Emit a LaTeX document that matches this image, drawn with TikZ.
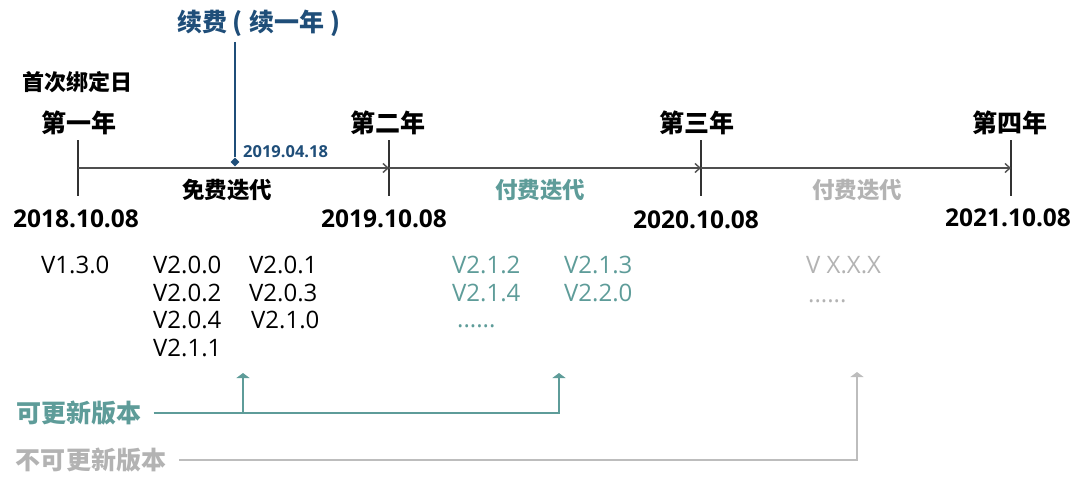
\documentclass[tikz,border=0pt]{standalone}
\usepackage{fontspec}
\setmainfont{Open Sans}
\newfontfamily\cjk{Noto Sans CJK SC}
\usetikzlibrary{arrows.meta,shapes.geometric}
\definecolor{tealc}{HTML}{5E9C99}
\definecolor{grayc}{HTML}{B3B3B3}
\definecolor{graylinec}{HTML}{BDBDBD}
\definecolor{bluec}{HTML}{1F4E79}
\definecolor{linec}{HTML}{4F4F4F}
\definecolor{tickc}{HTML}{333333}
\begin{document}
\begin{tikzpicture}[x=1pt,y=-1pt,
  every node/.style={inner sep=0pt, anchor=center},
  yearlbl/.style={font=\cjk\bfseries\fontsize{25}{29}\selectfont, text=black},
  datelbl/.style={font=\bfseries\fontsize{24.5}{28}\selectfont, text=black},
  spanlbl/.style={font=\cjk\bfseries\fontsize{22.5}{26}\selectfont},
  verlbl/.style={font=\fontsize{24}{28}\selectfont, anchor=west},
  dotslbl/.style={font=\fontsize{24}{28}\selectfont, anchor=west},
  legendlbl/.style={font=\cjk\bfseries\fontsize{25}{29}\selectfont},
  timeline/.style={draw=linec, line width=1.4pt, -{Straight Barb[length=5pt,width=9pt,line width=1.4pt]}},
  tickline/.style={draw=tickc, line width=1.1pt},
  tealline/.style={draw=tealc, line width=1.4pt},
  grayline/.style={draw=graylinec, line width=1.4pt},
  tealtip/.style={-{Triangle[length=5pt,width=13pt]}},
]
\useasboundingbox (0,0) rectangle (1083,476);

% ticks
\foreach \i/\x in {1/78,2/389,3/701,4/1011}{
  \coordinate (top\i) at (\x,140);
  \coordinate (bot\i) at (\x,196);
  \coordinate (mid\i) at (\x,168);
  \draw[tickline] (top\i) -- (bot\i);
}
\draw[timeline] (mid1) -- (mid2);
\draw[timeline] (mid2) -- (mid3);
\draw[timeline] (mid3) -- (mid4);

% year labels
\node[font=\cjk\bfseries\fontsize{22}{26}\selectfont] (first) at (77,82) {首次绑定日};
\node[yearlbl] (y1) at (79,123) {第一年};
\node[yearlbl] (y2) at (388,123) {第二年};
\node[yearlbl] (y3) at (697,123) {第三年};
\node[yearlbl] (y4) at (1010,123) {第四年};

% dates
\node[datelbl] (d1) at (76,219) {2018.10.08};
\node[datelbl] (d2) at (384,219) {2019.10.08};
\node[datelbl] (d3) at (696,220) {2020.10.08};
\node[datelbl] (d4) at (1008,218) {2021.10.08};

% span labels
\node[spanlbl, text=black] (s1) at (227,190) {免费迭代};
\node[spanlbl, text=tealc] (s2) at (540,190) {付费迭代};
\node[spanlbl, text=grayc] (s3) at (857,190) {付费迭代};

% renewal marker
\node[diamond, fill=bluec, minimum size=9pt, inner sep=0pt] (dia) at (235,162) {};
\coordinate (btop) at (235,42);
\draw[draw=bluec, line width=2pt] (btop) -- (dia.north);
\node[font=\cjk\bfseries\fontsize{25}{29}\selectfont, text=bluec, anchor=west] (renew) at (177,23) {续费\hspace{5pt}(\hspace{7pt}续一年\hspace{6pt})};
\node[font=\bfseries\fontsize{16.5}{19}\selectfont, text=bluec, anchor=west] (rdate) at (243,152) {2019.04.18};

% versions black
\node[verlbl] (v130) at (41,265) {V1.3.0};
\node[verlbl] (v200) at (153,265) {V2.0.0};
\node[verlbl] (v201) at (249,265) {V2.0.1};
\node[verlbl] (v202) at (153,293) {V2.0.2};
\node[verlbl] (v203) at (249,293) {V2.0.3};
\node[verlbl] (v204) at (153,320) {V2.0.4};
\node[verlbl] (v210) at (251,320) {V2.1.0};
\node[verlbl] (v211) at (153,348) {V2.1.1};

% versions teal
\node[verlbl, text=tealc] (v212) at (452,265) {V2.1.2};
\node[verlbl, text=tealc] (v213) at (564,265) {V2.1.3};
\node[verlbl, text=tealc] (v214) at (452,293) {V2.1.4};
\node[verlbl, text=tealc] (v220) at (564,293) {V2.2.0};
\node[dotslbl, text=tealc] (tdots) at (457,326) {......};

% versions gray
\node[verlbl, text=grayc] (vx) at (806,265) {V X.X.X};
\node[dotslbl, text=grayc] (gdots) at (808,301) {......};

% legend
\node[legendlbl, text=tealc] (can) at (79,413) {可更新版本};
\node[legendlbl, text=grayc] (cannot) at (91,460) {不可更新版本};
\coordinate (c1) at (243,413);
\coordinate (c1t) at (243,373);
\coordinate (c2) at (559,413);
\coordinate (c2t) at (559,373);
\coordinate (g1) at (857,460);
\coordinate (g1t) at (857,372);
\draw[tealline, tealtip] ([xshift=12pt]can.east) -- (c2) -- (c2t);
\draw[tealline, tealtip] (c1) -- (c1t);
\draw[grayline, -{Triangle[length=5pt,width=13pt]}] ([xshift=13pt]cannot.east) -- (g1) -- (g1t);
\end{tikzpicture}
\end{document}
